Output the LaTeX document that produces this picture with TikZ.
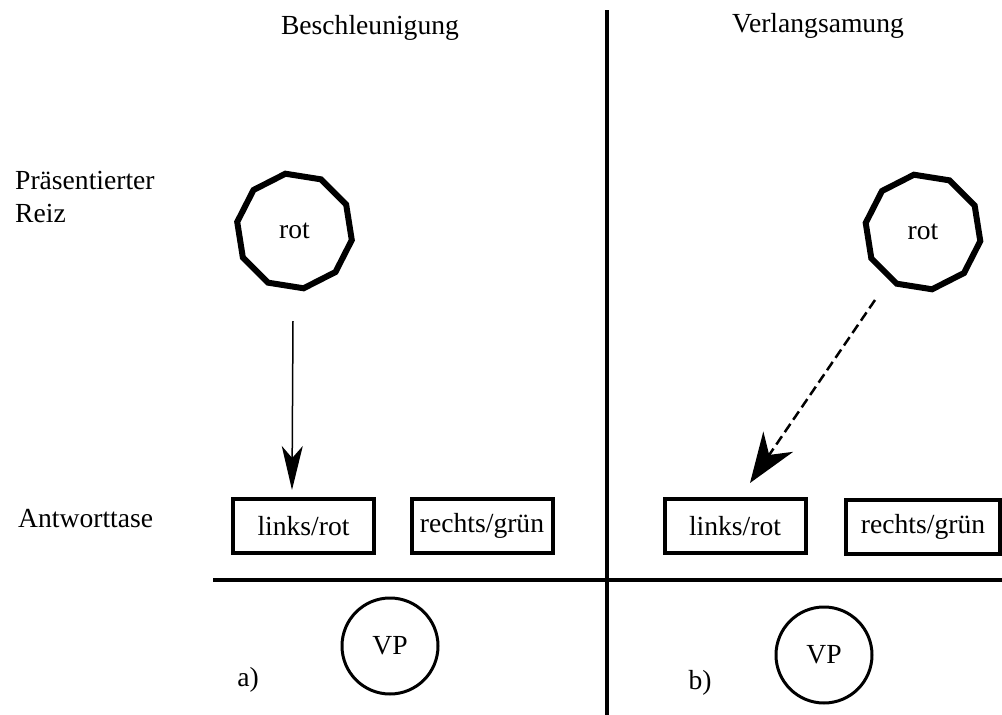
\documentclass[tikz,border=0pt]{standalone}
\usepackage{fontspec}
\setmainfont{Liberation Serif}
\usetikzlibrary{shapes.geometric,arrows.meta}
\begin{document}
\begin{tikzpicture}[x=1pt,y=-1pt,
  txt/.style={font=\fontsize{27.6}{33}\selectfont, inner sep=0pt},
  stim/.style={regular polygon, regular polygon sides=10, minimum size=116pt,
    line width=6pt, draw, inner sep=0pt, shape border rotate=-9,
    font=\fontsize{27.6}{33}\selectfont},
  keybox/.style={draw, rectangle, line width=4pt, minimum width=141pt,
    minimum height=54pt, inner sep=0pt, font=\fontsize{27.6}{33}\selectfont},
  person/.style={draw, circle, line width=3pt, minimum size=96pt, inner sep=0pt,
    font=\fontsize{27.6}{33}\selectfont},
  divider/.style={line width=4pt}]
\useasboundingbox (0,0) rectangle (1002,715);

% panel dividers
\coordinate (vtop) at (607,10);
\coordinate (vbot) at (607,715);
\coordinate (hl) at (213,580);
\coordinate (hr) at (1002,580);
\draw[divider] (vtop) -- (vbot);
\draw[divider] (hl) -- (hr);

% headings and row labels
\node[txt] (h1) at (370,28) {Beschleunigung};
\node[txt] (h2) at (818,26) {Verlangsamung};
\node[txt, anchor=west, align=left] (rz) at (15,197) {Präsentierter\\Reiz};
\node[txt, anchor=west] (aw) at (18,519) {Antworttase};
\node[txt] (la) at (248,680) {a)};
\node[txt] (lb) at (700,683) {b)};

% stimuli
\node[stim] (s1) at (294.5,231) {rot};
\node[stim] (s2) at (923,232) {rot};

% response keys
\node[keybox] (k1) at (303.5,526) {links/rot};
\node[keybox] (k2) at (482,526) {rechts/grün};
\node[keybox] (k3) at (735,526) {links/rot};
\node[keybox, minimum width=154pt] (k4) at (923,527) {rechts/grün};

% participants
\node[person] (p1) at (390,646) {VP};
\node[person] (p2) at (824,655) {VP};

% stimulus-to-response connections
\coordinate (a1s) at (293,321);
\coordinate (a1e) at (292,490);
\draw[line width=1.5pt, -{Stealth[length=44pt,width=21pt,inset=12pt]}] (a1s) -- (a1e);
\coordinate (a2s) at (875,300);
\coordinate (a2e) at (750,483);
\draw[line width=2.5pt, dash pattern=on 10pt off 5pt,
  -{Stealth[length=50pt,width=36pt,inset=16pt]}] (a2s) -- (a2e);
\end{tikzpicture}
\end{document}
